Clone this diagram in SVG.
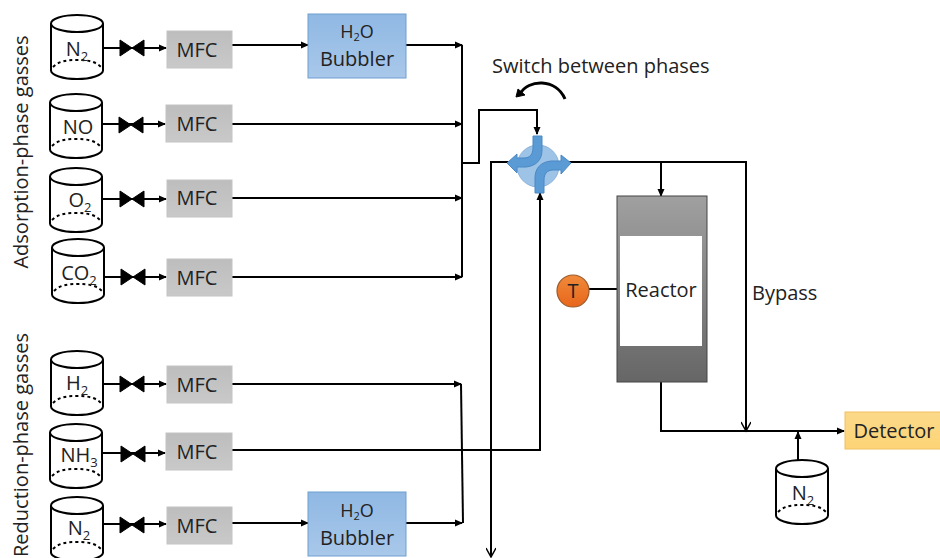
<svg xmlns="http://www.w3.org/2000/svg" xmlns:xlink="http://www.w3.org/1999/xlink" width="940" height="558" viewBox="0 0 940 558">
<style>
text{font-family:"Open Sans","Noto Sans",sans-serif;fill:#222;font-size:20px}
.c{text-anchor:middle}
.l{fill:none;stroke:#000;stroke-width:2}
.cyl{fill:#fff;stroke:#000;stroke-width:2}
.dash{fill:none;stroke:#000;stroke-width:2;stroke-dasharray:3 3}
.mfc{fill:url(#gm);stroke:#c4c4c4;stroke-width:1}
.bub{fill:url(#gb);stroke:#6f9fd0;stroke-width:1}
.sub{font-size:13px}
.blue{fill:#5b9bd5;stroke:#4a88c4;stroke-width:1}
</style>
<defs>
<linearGradient id="gm" x1="0" y1="0" x2="0" y2="1"><stop offset="0" stop-color="#bdbdbd"/><stop offset="1" stop-color="#c9c9c9"/></linearGradient>
<linearGradient id="gb" x1="0" y1="0" x2="0" y2="1"><stop offset="0" stop-color="#8fb8e3"/><stop offset="1" stop-color="#a9c8ea"/></linearGradient>
<linearGradient id="gr" x1="0" y1="0" x2="0" y2="1"><stop offset="0" stop-color="#a0a0a0"/><stop offset="1" stop-color="#666"/></linearGradient>
<linearGradient id="gt" x1="0" y1="0" x2="0" y2="1"><stop offset="0" stop-color="#f08a3c"/><stop offset="1" stop-color="#e8661a"/></linearGradient>
<linearGradient id="gd" x1="0" y1="0" x2="0" y2="1"><stop offset="0" stop-color="#fbd98a"/><stop offset="1" stop-color="#fdd476"/></linearGradient>
<marker id="a" markerWidth="8" markerHeight="8" refX="7" refY="4" orient="auto" markerUnits="userSpaceOnUse"><path d="M0,0.5L8,4L0,7.5z" fill="#000"/></marker>
<marker id="o" markerWidth="12" markerHeight="10" refX="10" refY="5" orient="auto" markerUnits="userSpaceOnUse"><path d="M1,0L10,5L1,10" fill="none" stroke="#000" stroke-width="1.5"/></marker>
<g id="cy">
<path class="cyl" d="M0,8.5V55.5C0,60 12,64 26,64S52,60 52,55.5V8.5"/>
<ellipse class="cyl" cx="26" cy="8.5" rx="26" ry="8.5"/>
<path class="dash" d="M2,52C8,46 16,45 26,45S44,46 50,52"/>
</g>
<g id="vv"><path d="M0,-8V8L24,-8V8Z" fill="#000" stroke="#000" stroke-width="1"/></g>
</defs>
<g id="connectors">
<path class="l" d="M103,48H150M102,124H150M103,199H150M104,277H150M103,384H150M102,453H150M103,524H150"/>
<path class="l" d="M150,48H166" marker-end="url(#a)"/><path class="l" d="M150,124H165" marker-end="url(#a)"/><path class="l" d="M150,199H166" marker-end="url(#a)"/><path class="l" d="M150,277H166" marker-end="url(#a)"/><path class="l" d="M150,384H166" marker-end="url(#a)"/><path class="l" d="M150,453H165" marker-end="url(#a)"/><path class="l" d="M150,524H166" marker-end="url(#a)"/>
<path class="l" d="M232,45H308" marker-end="url(#a)"/>
<path class="l" d="M406,45H462" marker-end="url(#a)"/>
<path class="l" d="M232,124H462" marker-end="url(#a)"/>
<path class="l" d="M232,198H462" marker-end="url(#a)"/>
<path class="l" d="M232,277H462" marker-end="url(#a)"/>
<path class="l" d="M462,45V277"/>
<path class="l" d="M462,163H479V110H537V134" marker-end="url(#a)"/>
<path class="l" d="M232,384H461" marker-end="url(#a)"/>
<path class="l" d="M232,523H308" marker-end="url(#a)"/>
<path class="l" d="M406,523H462" marker-end="url(#a)"/>
<path class="l" d="M461,384L463,523"/>
<path class="l" d="M232,450H540V193" marker-end="url(#a)"/>
<path class="l" d="M510,162H491V557" marker-end="url(#o)"/>
<path class="l" d="M568,162H746V431" marker-end="url(#o)"/>
<path class="l" d="M661,162V196" marker-end="url(#a)"/>
<path class="l" d="M661,382V431H844" marker-end="url(#a)"/>
<path class="l" d="M798,460V432" marker-end="url(#a)"/>
<path class="l" d="M589,289H617"/>
<path d="M520,94C528,79 556,78 565,99" fill="none" stroke="#000" stroke-width="3"/>
<path d="M516,97L518,89L525,95z" fill="#000" stroke="#000"/>
</g>
<g id="n2a"><use xlink:href="#cy" x="51" y="15"/><text class="c" x="77" y="56">N<tspan class="sub" dy="5">2</tspan></text></g>
<g id="no"><use xlink:href="#cy" x="50" y="94"/><text class="c" x="78" y="134">NO</text></g>
<g id="o2"><use xlink:href="#cy" x="50" y="168"/><text class="c" x="80" y="207">O<tspan class="sub" dy="5">2</tspan></text></g>
<g id="co2"><use xlink:href="#cy" x="52" y="239"/><text class="c" x="79" y="280">CO<tspan class="sub" dy="5">2</tspan></text></g>
<g id="h2"><use xlink:href="#cy" x="51" y="351"/><text class="c" x="77" y="390">H<tspan class="sub" dy="5">2</tspan></text></g>
<g id="nh3"><use xlink:href="#cy" x="50" y="424"/><text class="c" x="79" y="462">NH<tspan class="sub" dy="5">3</tspan></text></g>
<g id="n2b"><use xlink:href="#cy" x="51" y="497"/><text class="c" x="79" y="535">N<tspan class="sub" dy="5">2</tspan></text></g>
<g id="valves">
<use xlink:href="#vv" x="120" y="48"/><use xlink:href="#vv" x="119" y="125"/><use xlink:href="#vv" x="120" y="199"/><use xlink:href="#vv" x="121" y="277"/><use xlink:href="#vv" x="120" y="384"/><use xlink:href="#vv" x="121" y="454"/><use xlink:href="#vv" x="120" y="525"/>
</g>
<g id="mfc1"><rect class="mfc" x="167" y="31" width="65" height="37"/><text class="c" x="197" y="57">MFC</text></g>
<g id="mfc2"><rect class="mfc" x="166" y="105" width="66" height="37"/><text class="c" x="197" y="131">MFC</text></g>
<g id="mfc3"><rect class="mfc" x="167" y="180" width="65" height="37"/><text class="c" x="197" y="205">MFC</text></g>
<g id="mfc4"><rect class="mfc" x="167" y="259" width="65" height="37"/><text class="c" x="197" y="285">MFC</text></g>
<g id="mfc5"><rect class="mfc" x="167" y="366" width="65" height="37"/><text class="c" x="197" y="392">MFC</text></g>
<g id="mfc6"><rect class="mfc" x="166" y="433" width="66" height="37"/><text class="c" x="197" y="459">MFC</text></g>
<g id="mfc7"><rect class="mfc" x="167" y="507" width="65" height="37"/><text class="c" x="197" y="533">MFC</text></g>
<g id="bub1"><rect class="bub" x="308" y="14" width="98" height="64"/><text class="c" x="357" y="38" style="font-size:18px">H<tspan style="font-size:11px" dy="3">2</tspan><tspan dy="-3">O</tspan></text><text class="c" x="357" y="66">Bubbler</text></g>
<g id="bub2"><rect class="bub" x="308" y="492" width="98" height="64"/><text class="c" x="357" y="517" style="font-size:18px">H<tspan style="font-size:11px" dy="3">2</tspan><tspan dy="-3">O</tspan></text><text class="c" x="357" y="545">Bubbler</text></g>
<g id="switch">
<circle cx="538" cy="166" r="21" fill="#9dc3e6" stroke="#8ab3dc"/>
<path class="blue" d="M533,136H542V150C542,160 536,166 526,167H517V173L507,163L517,154V158H524C530,158 533,154 533,148Z"/>
<path class="blue" d="M544,193H535V178C535,168 541,162 551,161H561V155L571,163L561,174V170H553C547,170 544,174 544,180Z"/>
</g>
<g id="reactor"><rect x="617" y="196" width="90" height="186" fill="url(#gr)" stroke="#444"/><rect x="620" y="236" width="82" height="110" fill="#fff"/><text class="c" x="661" y="297">Reactor</text></g>
<g id="t"><circle cx="573" cy="291" r="16" fill="url(#gt)" stroke="#9c5a2a" stroke-width="1.2"/><text class="c" x="573" y="298">T</text></g>
<g id="det"><rect x="845" y="412" width="96" height="37" fill="url(#gd)" stroke="#f0c060"/><text class="c" x="894" y="438">Detector</text></g>
<g id="n2c"><use xlink:href="#cy" x="776" y="460"/><text class="c" x="803" y="500">N<tspan class="sub" dy="5">2</tspan></text></g>
<text x="492" y="73">Switch between phases</text>
<text x="752" y="300">Bypass</text>
<text class="c" transform="translate(28,152) rotate(-90)">Adsorption-phase gasses</text>
<text class="c" transform="translate(28,445) rotate(-90)">Reduction-phase gasses</text>
</svg>
